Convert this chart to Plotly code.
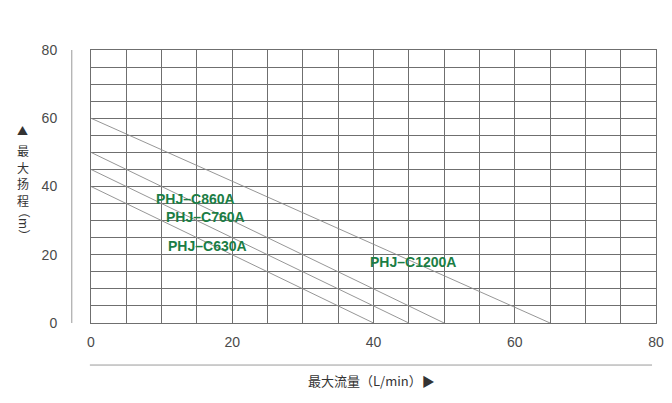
import plotly.graph_objects as go

# Data
models = ["PHJ–C1200A", "PHJ–C860A", "PHJ–C760A", "PHJ–C630A"]
max_head = [60, 50, 45, 40]      # m, at zero flow
max_flow = [65, 50, 45, 40]      # L/min, at zero head
label_x = [39.2, 8.9, 10.3, 10.6]
label_y = [17.9, 36.3, 31.1, 22.6]
x_ticks = [0, 20, 40, 60, 80]
y_ticks = [0, 20, 40, 60, 80]
y_title_chars = ["▲", "最", "大", "扬", "程"]
x_title = "最大流量（L/min）▶"

grid_c = "#6f6f6f"
fig = go.Figure()
for h, q in zip(max_head, max_flow):
    fig.add_trace(go.Scatter(x=[0, q], y=[h, 0], mode="lines",
                             line=dict(color="#8a8a8a", width=0.9),
                             showlegend=False, hoverinfo="skip"))

for name, lx, ly in zip(models, label_x, label_y):
    fig.add_annotation(x=lx, y=ly, text=name, showarrow=False, xanchor="left",
                       yanchor="middle",
                       font=dict(family="Liberation Sans, Arial", size=14,
                                 color="#1b7d45", weight="bold"))

axis_common = dict(range=[0, 80], dtick=20, tick0=0, showgrid=True,
                   gridcolor=grid_c, gridwidth=1, zeroline=False,
                   showline=True, linecolor=grid_c, linewidth=1, mirror=True,
                   ticks="", tickfont=dict(family="Liberation Sans, Arial",
                                           size=14, color="#4a4a4a"),
                   minor=dict(dtick=5, showgrid=True, gridcolor=grid_c,
                              gridwidth=1))
fig.update_xaxes(**axis_common, tickvals=x_ticks, ticklabelstandoff=6)
fig.update_yaxes(**axis_common, tickvals=y_ticks, ticklabelstandoff=30)

# extra axis lines
fig.add_shape(type="line", xref="paper", yref="paper", x0=-0.034, x1=-0.034,
              y0=0, y1=1, line=dict(color="#9a9a9a", width=1))
fig.add_shape(type="line", xref="paper", yref="paper", x0=-0.002, x1=0.993,
              y0=-0.154, y1=-0.154, line=dict(color="#9a9a9a", width=1))

# axis titles
title_font = dict(family="Noto Sans CJK SC", size=12, color="#333333")
fig.add_annotation(xref="paper", yref="paper", x=0.496, y=-0.21,
                   text=x_title, showarrow=False, yanchor="middle",
                   font=dict(family="Noto Sans CJK SC", size=13, color="#333333"))
y_title_pos = [0.707, 0.634, 0.573, 0.511, 0.451]
for ch, yp in zip(y_title_chars, y_title_pos):
    fig.add_annotation(xref="paper", yref="paper", x=-0.1345, y=yp,
                       text=ch, showarrow=False, yanchor="middle", height=14,
                       font=dict(family="Noto Sans CJK SC",
                                 size=11 if ch == "▲" else 12,
                                 color="#333333"))
fig.add_annotation(xref="paper", yref="paper", x=-0.1345, y=0.366,
                   text="（m）", showarrow=False, textangle=90,
                   yanchor="middle", height=14, font=title_font)

fig.update_layout(width=672, height=403,
                  margin=dict(l=83, r=24, t=42, b=88),
                  plot_bgcolor="white", paper_bgcolor="white")
fig.write_html("out.html")
